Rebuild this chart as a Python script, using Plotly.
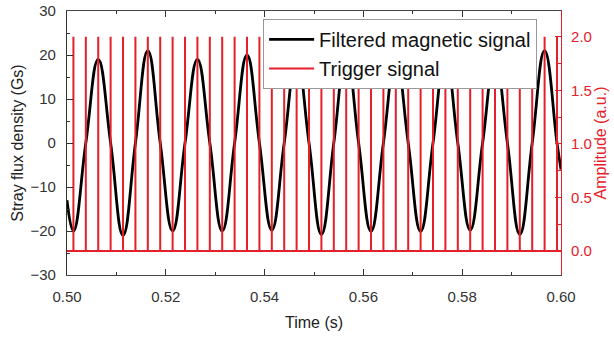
import plotly.graph_objects as go

# ---- data ----
trigger_time = [0.5013, 0.50381, 0.50632, 0.50883, 0.51134, 0.51385, 0.51636, 0.51887,
                0.52138, 0.52389, 0.5264, 0.52891, 0.53142, 0.53393, 0.53644, 0.53895,
                0.54146, 0.54397, 0.54648, 0.54899, 0.5515, 0.55401, 0.55652, 0.55903,
                0.56154, 0.56405, 0.56656, 0.56907, 0.57158, 0.57409, 0.5766, 0.57911,
                0.58162, 0.58413, 0.58664, 0.58915, 0.59166, 0.59417, 0.59668, 0.59919]
trigger_high = 2.0
trigger_low = 0.0

magnetic_time = [0.5] + trigger_time + [0.6]
magnetic_value = [-13,
                  -20, 0, 19, 0,
                  -21, 0, 21, 0,
                  -20, 0, 19, 0,
                  -20, 0, 20, 0,
                  -19.8, 0, 19.5, 0,
                  -20.8, 0, 20.5, 0,
                  -20.1, 0, 19.5, 0,
                  -20.1, 0, 20, 0,
                  -19.8, 0, 19.5, 0,
                  -20.8, 0, 21, 0,
                  -6]

x_ticks = [0.50, 0.52, 0.54, 0.56, 0.58, 0.60]
y_ticks = [-30, -20, -10, 0, 10, 20, 30]
y2_ticks = [0.0, 0.5, 1.0, 1.5, 2.0]

RED = "#e5202a"
FONT = "Liberation Sans, Arial, sans-serif"

# pulse train path built from the pulse times
tx, ty = [0.5], [trigger_low]
for t in trigger_time:
    tx += [t, t, t]
    ty += [trigger_low, trigger_high, trigger_low]
tx.append(0.6)
ty.append(trigger_low)

fig = go.Figure()
fig.add_trace(go.Scatter(x=magnetic_time, y=magnetic_value, mode="lines",
                         name="Filtered magnetic signal",
                         line=dict(color="black", width=2.8, shape="spline", smoothing=1.3),
                         yaxis="y"))
fig.add_trace(go.Scatter(x=tx, y=ty, mode="lines", name="Trigger signal",
                         line=dict(color=RED, width=2), yaxis="y2"))

fig.update_layout(
    width=614, height=339,
    margin=dict(l=67, r=53, t=11, b=64, autoexpand=False),
    paper_bgcolor="white", plot_bgcolor="white",
    font=dict(family=FONT, size=15, color="#333"),
    showlegend=True,
    legend=dict(x=0.397, y=0.97, xanchor="left", yanchor="top",
                bgcolor="white", bordercolor="#999", borderwidth=1,
                font=dict(size=20, color="#111"), tracegroupgap=0, itemwidth=45),
    xaxis=dict(range=[0.5, 0.6], tickvals=x_ticks, tickformat=".2f",
               ticks="inside", ticklen=6, tickcolor="#333",
               minor=dict(dtick=0.01, ticks="inside", ticklen=3, tickcolor="#333"),
               showline=True, linecolor="#444", linewidth=1.2, mirror="ticks",
               showgrid=False, zeroline=False, automargin=False,
               ticklabelstandoff=8,
               tickfont=dict(size=15, color="#333"),
               title=dict(text="Time (s)", font=dict(size=16, color="#222"), standoff=12)),
    yaxis=dict(range=[-30, 30], tickvals=y_ticks,
               ticks="inside", ticklen=6, tickcolor="#333",
               minor=dict(dtick=5, ticks="inside", ticklen=3, tickcolor="#333"),
               showline=True, linecolor="#333", linewidth=1.2,
               showgrid=False, zeroline=False, automargin=False,
               ticklabelstandoff=7,
               tickfont=dict(size=15, color="#333"),
               title=dict(text="Stray flux density (Gs)", font=dict(size=16, color="#222"),
                          standoff=2)),
    yaxis2=dict(range=[-0.225, 2.24], tickvals=y2_ticks, tickformat=".1f",
                overlaying="y", side="right",
                ticks="inside", ticklen=6, tickcolor=RED,
                minor=dict(dtick=0.25, ticks="inside", ticklen=3, tickcolor=RED),
                showline=True, linecolor=RED, linewidth=1.2,
                showgrid=False, zeroline=False, automargin=False,
                ticklabelstandoff=6,
                tickfont=dict(size=15, color=RED),
                title=dict(text="Amplitude (a.u.)", font=dict(size=16, color=RED),
                           standoff=2)),
)

# remove the default 8px page margin so the figure sits at the window's corner
fig.write_html("out.html",
               config={"displayModeBar": False},
               post_script="document.body.style.margin='0';document.body.style.overflow='hidden';")
